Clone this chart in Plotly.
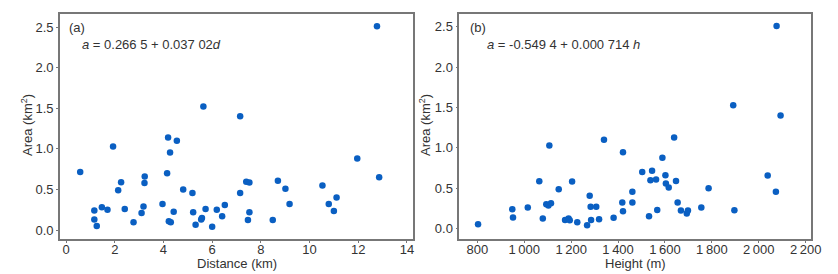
import plotly.graph_objects as go
from plotly.subplots import make_subplots

# Panel (a): distance (km) vs area (km^2)
distance_km = [0.58, 1.16, 1.16, 1.26, 1.47, 1.70, 1.93, 2.14, 2.26, 2.41,
               2.77, 3.10, 3.18, 3.22, 3.23, 3.96, 4.15, 4.19, 4.22, 4.30,
               4.27, 4.42, 4.55, 4.81, 5.19, 5.22, 5.32, 5.55, 5.58, 5.64,
               5.73, 6.00, 6.19, 6.41, 6.52, 7.15, 7.15, 7.40, 7.53, 7.47,
               7.53, 8.49, 8.70, 9.01, 9.18, 10.53, 10.79, 11.00, 11.11, 11.96,
               12.86, 12.77]
area_a = [0.715, 0.24, 0.13, 0.05, 0.28, 0.25, 1.03, 0.49, 0.59, 0.26,
          0.095, 0.21, 0.29, 0.58, 0.66, 0.32, 0.70, 1.14, 0.107, 0.095,
          0.955, 0.227, 1.10, 0.50, 0.455, 0.22, 0.066, 0.13, 0.15, 1.52,
          0.26, 0.04, 0.25, 0.17, 0.31, 0.455, 1.40, 0.595, 0.587, 0.124,
          0.22, 0.124, 0.607, 0.51, 0.32, 0.55, 0.32, 0.235, 0.40, 0.88,
          0.65, 2.51]

# Panel (b): height (m) vs area (km^2)
height_m = [803, 949, 952, 1015, 1064, 1079, 1094, 1103, 1107, 1114,
            1147, 1174, 1189, 1194, 1204, 1226, 1268, 1279, 1283, 1285,
            1307, 1319, 1340, 1381, 1418, 1421, 1421, 1461, 1461, 1503,
            1532, 1538, 1545, 1562, 1567, 1589, 1602, 1604, 1616, 1639,
            1647, 1654, 1668, 1693, 1698, 1755, 1786, 1891, 1896, 2038,
            2073, 2076, 2093]
area_b = [0.054, 0.24, 0.136, 0.26, 0.587, 0.124, 0.30, 0.285, 1.03, 0.314,
          0.488, 0.107, 0.124, 0.103, 0.583, 0.079, 0.041, 0.405, 0.27, 0.107,
          0.27, 0.116, 1.10, 0.132, 0.322, 0.946, 0.215, 0.455, 0.322, 0.70,
          0.153, 0.60, 0.715, 0.607, 0.23, 0.876, 0.66, 0.558, 0.508, 1.128,
          0.59, 0.322, 0.223, 0.186, 0.223, 0.26, 0.50, 1.53, 0.227, 0.657,
          0.455, 2.51, 1.40]

y_ticks = [0.0, 0.5, 1.0, 1.5, 2.0, 2.5]
y_ticktext = ["0.0", "0.5", "1.0", "1.5", "2.0", "2.5"]
x_a_ticks = [0, 2, 4, 6, 8, 10, 12, 14]
x_b_ticks = [800, 1000, 1200, 1400, 1600, 1800, 2000, 2200]
x_b_ticktext = ["800", "1\u2009000", "1\u2009200", "1\u2009400", "1\u2009600",
                "1\u2009800", "2\u2009000", "2\u2009200"]
x_titles = ["Distance (km)", "Height (m)"]
y_title = "Area (km<sup>2</sup>)"

MARK = "#0a5fc2"
FRAME = "#777777"
TXT = "#333333"
FONT = "Liberation Sans, Arial, sans-serif"

fig = make_subplots(rows=1, cols=2)
fig.add_trace(go.Scatter(x=distance_km, y=area_a, mode="markers",
                         marker=dict(color=MARK, size=6.5), showlegend=False,
                         hoverinfo="skip"),
              row=1, col=1)
fig.add_trace(go.Scatter(x=height_m, y=area_b, mode="markers",
                         marker=dict(color=MARK, size=6.5), showlegend=False,
                         hoverinfo="skip"),
              row=1, col=2)

W, H = 838, 274
ydom = [1 - 239 / H, 1 - 14 / H]
axis_common = dict(showline=True, linecolor=FRAME, linewidth=1.6, mirror=True,
                   showgrid=False, zeroline=False, ticks="outside", ticklen=2,
                   tickcolor=FRAME, automargin=False,
                   tickfont=dict(size=13, color=TXT, family=FONT))
tfont = dict(size=13, color=TXT, family=FONT)

fig.update_xaxes(domain=[60 / W, 413 / W], range=[-0.25, 14.25], tickvals=x_a_ticks,
                 ticklabelstandoff=-4, row=1, col=1, **axis_common)
fig.update_xaxes(domain=[459.3 / W, 811.3 / W], range=[723, 2224], tickvals=x_b_ticks,
                 ticktext=x_b_ticktext, ticklabelstandoff=-4, row=1, col=2, **axis_common)
fig.update_yaxes(domain=ydom, range=[-0.11, 2.66], tickvals=y_ticks, ticktext=y_ticktext,
                 row=1, col=1, **axis_common)
fig.update_yaxes(domain=ydom, range=[-0.13, 2.66], tickvals=y_ticks, ticktext=y_ticktext,
                 row=1, col=2, **axis_common)

# axis titles as annotations for exact placement
fig.add_annotation(text=x_titles[0], xref="paper", yref="paper",
                   x=(60 + 413) / 2 / W, y=1 - 263 / H, xanchor="center", yanchor="middle",
                   showarrow=False, font=tfont)
fig.add_annotation(text=x_titles[1], xref="paper", yref="paper",
                   x=(459.3 + 811.3) / 2 / W, y=1 - 263 / H, xanchor="center", yanchor="middle",
                   showarrow=False, font=tfont)
fig.add_annotation(text=y_title, xref="paper", yref="paper", textangle=-90,
                   x=27 / W, y=1 - 125 / H, xanchor="center", yanchor="middle",
                   showarrow=False, font=tfont)
fig.add_annotation(text=y_title, xref="paper", yref="paper", textangle=-90,
                   x=425 / W, y=1 - 125 / H, xanchor="center", yanchor="middle",
                   showarrow=False, font=tfont)

ann_font = dict(size=13, color=TXT, family=FONT)
fig.add_annotation(text="(a)", xref="paper", yref="paper", x=67 / W, y=1 - 27 / H,
                   xanchor="left", yanchor="middle", showarrow=False, font=ann_font)
fig.add_annotation(text="<i>a</i> = 0.266 5 + 0.037 02<i>d</i>", xref="paper", yref="paper",
                   x=80 / W, y=1 - 45 / H, xanchor="left", yanchor="middle",
                   showarrow=False, font=ann_font)
fig.add_annotation(text="(b)", xref="paper", yref="paper", x=468 / W, y=1 - 27 / H,
                   xanchor="left", yanchor="middle", showarrow=False, font=ann_font)
fig.add_annotation(text="<i>a</i> = -0.549 4 + 0.000 714 <i>h</i>", xref="paper", yref="paper",
                   x=485 / W, y=1 - 45 / H, xanchor="left", yanchor="middle",
                   showarrow=False, font=ann_font)

fig.update_layout(width=W, height=H,
                  margin=dict(l=0, r=0, t=0, b=0, autoexpand=False),
                  paper_bgcolor="white", plot_bgcolor="white",
                  font=dict(family=FONT, color=TXT), hovermode=False)
fig.write_html("out.html", config={"displayModeBar": False},
               post_script="document.body.style.margin='0';document.body.style.padding='0';")
